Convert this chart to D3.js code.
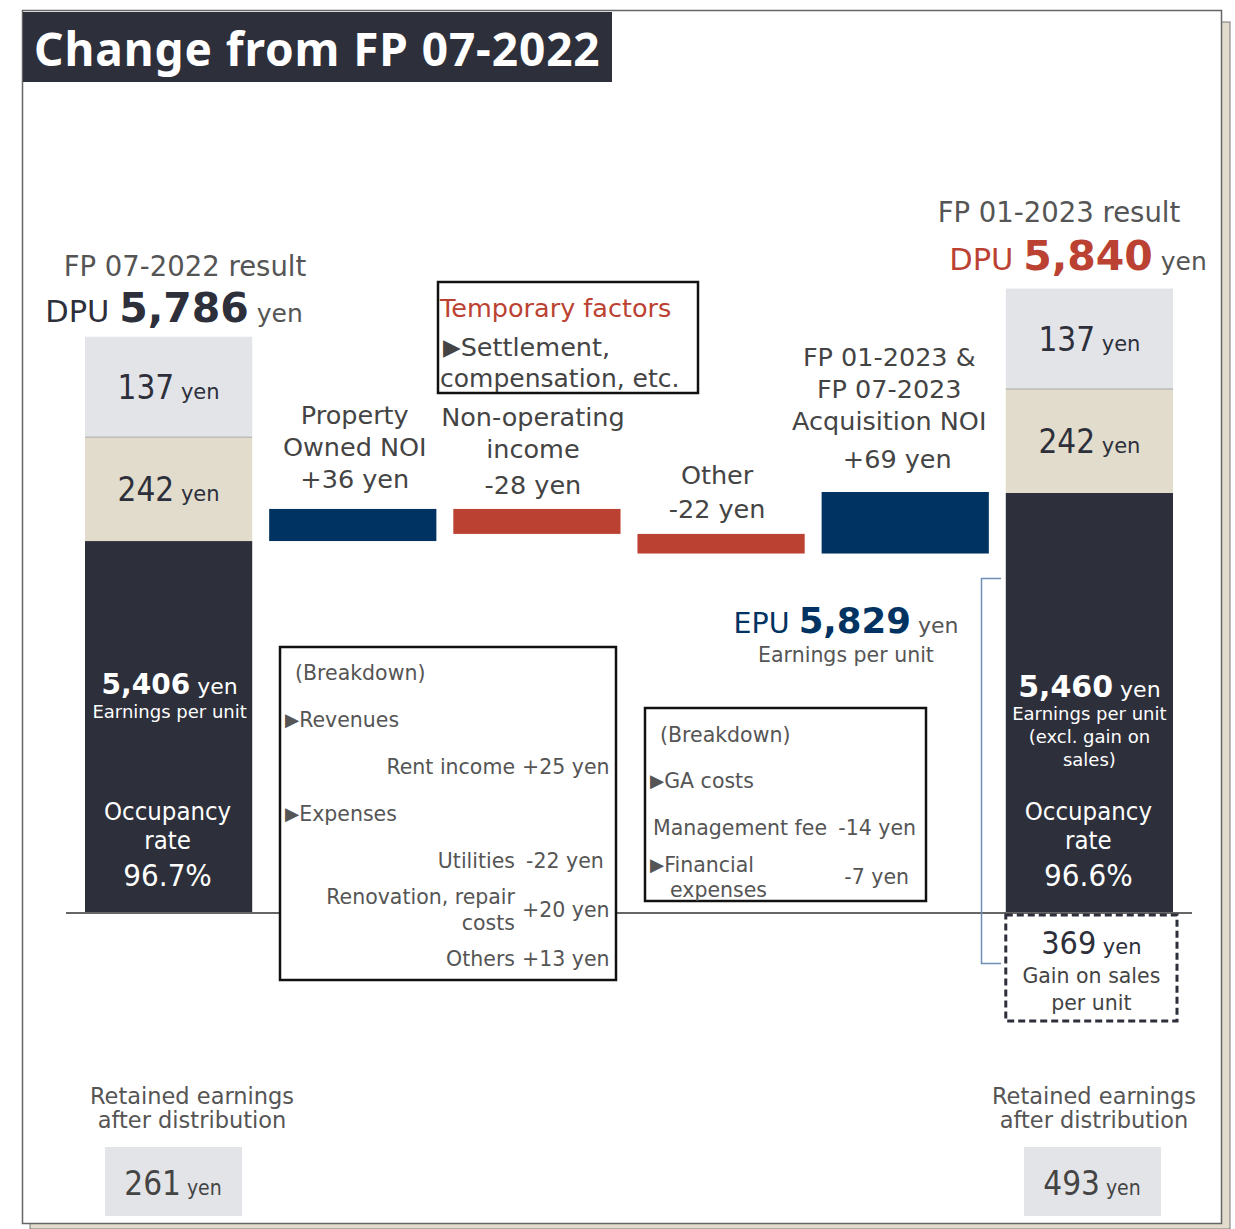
<!DOCTYPE html>
<html>
<head>
<meta charset="utf-8">
<script src="https://cdn.jsdelivr.net/npm/d3@7"></script>
<style>
  body { margin: 0; background: #fff; }
  text { font-family: "DejaVu Sans", sans-serif; white-space: pre; }
</style>
</head>
<body>
<div class="canvas"></div>
<script>
// ---- data ----
const periods = ["FP 07-2022", "FP 01-2023"];
const dpu = ["5,786", "5,840"];
const epuExcl = [5406, 5460];          // dark part of each stacked bar
const reserve1 = [242, 242];            // beige segment
const reserve2 = [137, 137];            // light grey segment
const occupancy = ["96.7%", "96.6%"];
const retained = [261, 493];
const gainOnSales = 369;
const epuTotal = "5,829";

const steps = ["Property Owned NOI", "Non-operating income", "Other", "Acquisition NOI"];
const stepValues = [36, -28, -22, 69];
const stepLabels = [
  ["Property", "Owned NOI", "+36 yen"],
  ["Non-operating", "income", "-28 yen"],
  ["Other", "-22 yen"],
  ["FP 01-2023 &", "FP 07-2023", "Acquisition NOI", "+69 yen"]
];

const breakdown1 = [
  {label: "Rent income", value: "+25 yen"},
  {label: "Utilities", value: "-22 yen"},
  {label: "Renovation, repair|costs", value: "+20 yen"},
  {label: "Others", value: "+13 yen"}
];
const breakdown2 = [
  {label: "Management fee", value: "-14 yen"},
  {label: "Financial|expenses", value: "-7 yen"}
];

// ---- colours ----
const navy = "#003361", red = "#bb4232", dark = "#2d2f3b",
      grey = "#e3e4e8", beige = "#e1dccb", txt = "#4a4a4a";
const cond = "DejaVu Sans Condensed";

const width = 1235, height = 1229;

const svg = d3.select('.canvas').append('svg')
    .attr('width', width)
    .attr('height', height);

// frame with a beige shadow
svg.append('rect').attr('x', 30).attr('y', 22).attr('width', 1200).attr('height', 1207)
    .attr('fill', beige).attr('stroke', '#777').attr('stroke-width', 1);
svg.append('rect').attr('x', 22.5).attr('y', 10.5).attr('width', 1199).attr('height', 1213)
    .attr('fill', '#fff').attr('stroke', '#666').attr('stroke-width', 1.5);

// title
svg.append('rect').attr('x', 23).attr('y', 12).attr('width', 589).attr('height', 70).attr('fill', dark);
svg.append('text').attr('x', 34).attr('y', 66)
    .attr('fill', '#fff').attr('font-size', 46).attr('font-weight', 700)
    .attr('letter-spacing', 0.9)
    .style('font-family', '"Noto Sans", sans-serif')
    .text("Change from FP 07-2022");

// ---- scales ----
const columns = [periods[0], ...steps, periods[1]];
const x = d3.scaleBand().domain(columns).range([85, 1173]).paddingInner(0.092);
// truncated value axis: the baseline sits at ~4,990 yen
const y = d3.scaleLinear().domain([4990, 5461]).range([912, 492]);
// stylised height for the small stacked segments
const segH = d3.scaleLinear().domain([0, 369]).range([96, 108]);

// helper for mixed-size text
function rich(g, px, py, parts, anchor) {
  const t = g.append('text').attr('x', px).attr('y', py).attr('text-anchor', anchor || 'middle');
  parts.forEach(p => {
    const s = t.append('tspan').text(p.t)
      .attr('font-size', p.s)
      .attr('font-weight', p.w || null)
      .attr('fill', p.c || txt);
    if (p.f) s.style('font-family', p.f);
    if (p.dy) s.attr('dy', p.dy);
  });
  return t;
}
function lines(g, px, py, arr, size, lh, color, anchor, font) {
  arr.forEach((l, i) => rich(g, px, py + i * lh, [{t: l, s: size, c: color, f: font}], anchor));
}
// "▶" bullet followed by text
function bullet(g, px, py, label, size, color) {
  const t = g.append('text').attr('x', px).attr('y', py);
  t.append('tspan').text("▶").attr('font-size', size * 0.9).attr('fill', color).attr('dy', -1);
  t.append('tspan').text(label).attr('font-size', size).attr('fill', color).attr('dy', 1);
  return t;
}

const g = svg.append('g');

// ---- stacked bars (start / end) ----
periods.forEach((p, i) => {
  const bx = x(columns[i === 0 ? 0 : columns.length - 1]), bw = x.bandwidth(), cx = bx + bw / 2;
  const top = y(epuExcl[i]);
  const h1 = segH(reserve1[i]), h2 = segH(reserve2[i]);
  g.append('rect').attr('x', bx).attr('y', top).attr('width', bw).attr('height', y(4990) - top).attr('fill', dark);
  g.append('rect').attr('x', bx).attr('y', top - h1).attr('width', bw).attr('height', h1).attr('fill', beige);
  g.append('rect').attr('x', bx).attr('y', top - h1 - h2).attr('width', bw).attr('height', h2).attr('fill', grey);
  g.append('line').attr('x1', bx).attr('x2', bx + bw).attr('y1', top - h1).attr('y2', top - h1)
    .attr('stroke', '#aaa').attr('stroke-width', 1);

  rich(g, cx, top - h1 / 2 + 12, [{t: reserve1[i], s: 33, c: dark, f: cond}, {t: " yen", s: 21, c: dark}]);
  rich(g, cx, top - h1 - h2 / 2 + 12, [{t: reserve2[i], s: 33, c: dark, f: cond}, {t: " yen", s: 21, c: dark}]);

  // headings above bar
  const headTop = top - h1 - h2;
  const dcol = i === 0 ? dark : red;
  rich(g, i === 0 ? 185 : 1059, headTop - (i === 0 ? 61 : 67), [{t: p + " result", s: 27.5, c: "#555"}]);
  rich(g, i === 0 ? 174 : 1078, headTop - (i === 0 ? 15 : 19), [
    {t: "DPU ", s: 30.5, c: dcol},
    {t: dpu[i], s: 41, w: 700, c: dcol},
    {t: " yen", s: 25, c: "#555"}
  ]);

  // texts inside the dark part
  const ecx = cx + (i === 0 ? 1 : 0);
  rich(g, ecx, i === 0 ? 694 : 697, [
    {t: d3.format(",")(epuExcl[i]), s: i === 0 ? 28 : 30, w: 700, c: "#fff"},
    {t: " yen", s: 22, c: "#fff"}
  ]);
  if (i === 0) {
    lines(g, ecx, 718, ["Earnings per unit"], 18, 23, "#fff");
  } else {
    lines(g, ecx, 720, ["Earnings per unit", "(excl. gain on", "sales)"], 18, 23, "#fff");
  }
  lines(g, cx - 1, 820, ["Occupancy", "rate"], 25.5, 29, "#fff", 'middle', cond);
  rich(g, cx - 1, 886, [{t: occupancy[i], s: 31, c: "#fff", f: cond}]);

  // retained earnings
  const rcx = i === 0 ? 192 : 1094;
  lines(g, rcx, 1104, ["Retained earnings", "after distribution"], 22.5, 24, "#555");
  const rx = i === 0 ? 105 : 1024;
  g.append('rect').attr('x', rx).attr('y', 1147).attr('width', 137).attr('height', 69).attr('fill', grey);
  rich(g, rx + 68, 1195, [
    {t: retained[i], s: 33, c: "#444", f: cond},
    {t: " yen", s: 21, c: "#444", f: cond}
  ]);
});

// baseline
g.append('line').attr('x1', 66).attr('x2', 1192).attr('y1', 913).attr('y2', 913)
    .attr('stroke', '#666').attr('stroke-width', 2);

// ---- waterfall steps ----
let run = epuExcl[0];
const wf = steps.map((s, i) => {
  const from = run;
  run += stepValues[i];
  return {name: s, from: from, to: run, v: stepValues[i]};
});

g.selectAll('rect.step').data(wf).enter().append('rect')
    .attr('class', 'step')
    .attr('x', d => x(d.name))
    .attr('width', x.bandwidth())
    .attr('y', d => y(Math.max(d.from, d.to)))
    .attr('height', d => Math.abs(y(d.from) - y(d.to)))
    .attr('fill', d => d.v >= 0 ? navy : red);

const labelPos = [
  {dx: 2, y: 424, lh: 32, last: 0},
  {dx: -4, y: 426, lh: 32, last: 4},
  {dx: -4, y: 484, lh: 34, last: 0},
  {dx: -16, y: 366, lh: 32, last: 6}
];
wf.forEach((d, i) => {
  const cx = x(d.name) + x.bandwidth() / 2 + labelPos[i].dx;
  stepLabels[i].forEach((l, j) => {
    const extra = j === stepLabels[i].length - 1 ? labelPos[i].last : 0;
    rich(g, cx + (i === 3 && j === stepLabels[i].length - 1 ? 8 : 0),
      labelPos[i].y + j * labelPos[i].lh + extra, [{t: l, s: 25.5, c: "#444"}]);
  });
});

// temporary factors box
g.append('rect').attr('x', 438).attr('y', 282).attr('width', 260).attr('height', 111)
    .attr('fill', '#fff').attr('stroke', '#111').attr('stroke-width', 2.5);
rich(g, 440, 317, [{t: "Temporary factors", s: 25.5, c: red}], 'start');
bullet(g, 443, 356, "Settlement,", 25.5, "#444");
rich(g, 440, 387, [{t: "compensation, etc.", s: 25, c: "#444"}], 'start');

// EPU incl. gain on sales
rich(g, 846, 633, [
  {t: "EPU ", s: 28.5, c: navy},
  {t: epuTotal, s: 35.5, w: 700, c: navy},
  {t: " yen", s: 22, c: "#555"}
]);
rich(g, 846, 662, [{t: "Earnings per unit", s: 20.5, c: "#555"}]);

// bracket
g.append('path').attr('d', "M1001,578.5 H981.5 V963.5 H1001")
    .attr('fill', 'none').attr('stroke', '#6d8fb3').attr('stroke-width', 1.5);

// gain on sales dashed box
const gx = x(columns[columns.length - 1]);
const gTop = y(4990) + 3;
g.append('rect').attr('x', gx).attr('y', gTop).attr('width', x.bandwidth() + 4).attr('height', segH(gainOnSales) - 2)
    .attr('fill', '#fff').attr('stroke', dark).attr('stroke-width', 3).attr('stroke-dasharray', '7,4');
const gcx = gx + x.bandwidth() / 2 + 2;
rich(g, gcx, gTop + 39, [{t: gainOnSales, s: 32, c: dark, f: cond}, {t: " yen", s: 21, c: dark}]);
lines(g, gcx, gTop + 68, ["Gain on sales", "per unit"], 20.5, 27, "#444");

// breakdown box 1
const bs = 20.5, bc = "#555";
g.append('rect').attr('x', 280).attr('y', 647).attr('width', 336).attr('height', 333)
    .attr('fill', '#fff').attr('stroke', '#111').attr('stroke-width', 2.5);
rich(g, 295, 680, [{t: "(Breakdown)", s: bs, c: bc}], 'start');
bullet(g, 285, 727, "Revenues", bs, bc);
bullet(g, 285, 821, "Expenses", bs, bc);
const b1y = [774, 868, 917, 966];
breakdown1.forEach((d, i) => {
  const parts = d.label.split("|");
  if (parts.length === 1) {
    rich(g, 515, b1y[i], [{t: parts[0], s: bs, c: bc}], 'end');
  } else {
    lines(g, 515, b1y[i] - 13, parts, bs, 26, bc, 'end');
  }
  rich(g, d.value.startsWith("-") ? 526 : 522, b1y[i], [{t: d.value, s: bs, c: bc}], 'start');
});

// breakdown box 2
g.append('rect').attr('x', 645).attr('y', 708).attr('width', 281).attr('height', 193)
    .attr('fill', '#fff').attr('stroke', '#111').attr('stroke-width', 2.5);
rich(g, 660, 742, [{t: "(Breakdown)", s: bs, c: bc}], 'start');
bullet(g, 650, 788, "GA costs", bs, bc);
rich(g, 653, 835, [{t: breakdown2[0].label, s: bs, c: bc}], 'start');
rich(g, 916, 835, [{t: breakdown2[0].value, s: bs, c: bc}], 'end');
const fin = breakdown2[1].label.split("|");
bullet(g, 650, 872, fin[0], bs, bc);
rich(g, 670, 897, [{t: fin[1], s: bs, c: bc}], 'start');
rich(g, 909, 884, [{t: breakdown2[1].value, s: bs, c: bc}], 'end');
</script>
</body>
</html>
